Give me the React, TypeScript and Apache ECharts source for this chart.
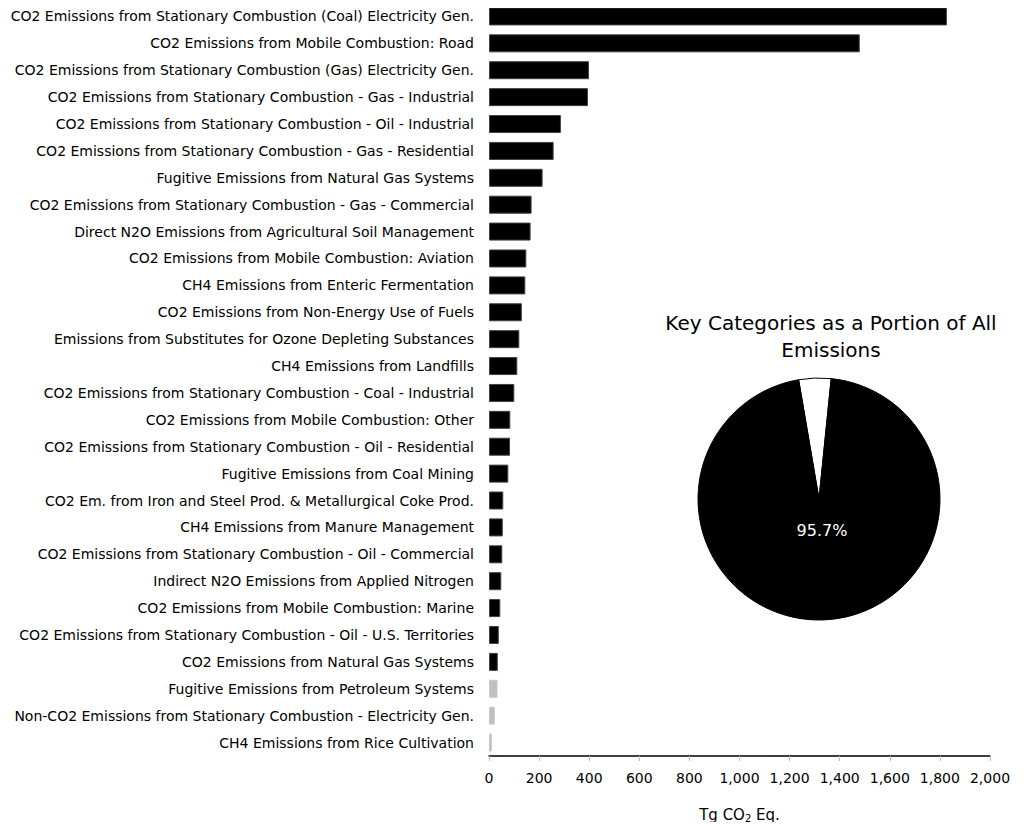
import React, { useEffect, useRef } from "react";
import * as echarts from "echarts";

const categories: string[] = [
  "CO2 Emissions from Stationary Combustion (Coal) Electricity Gen.",
  "CO2 Emissions from Mobile Combustion: Road",
  "CO2 Emissions from Stationary Combustion (Gas) Electricity Gen.",
  "CO2 Emissions from Stationary Combustion - Gas - Industrial",
  "CO2 Emissions from Stationary Combustion - Oil - Industrial",
  "CO2 Emissions from Stationary Combustion - Gas - Residential",
  "Fugitive Emissions from Natural Gas Systems",
  "CO2 Emissions from Stationary Combustion - Gas - Commercial",
  "Direct N2O Emissions from Agricultural Soil Management",
  "CO2 Emissions from Mobile Combustion: Aviation",
  "CH4 Emissions from Enteric Fermentation",
  "CO2 Emissions from Non-Energy Use of Fuels",
  "Emissions from Substitutes for Ozone Depleting Substances",
  "CH4 Emissions from Landfills",
  "CO2 Emissions from Stationary Combustion - Coal - Industrial",
  "CO2 Emissions from Mobile Combustion: Other",
  "CO2 Emissions from Stationary Combustion - Oil - Residential",
  "Fugitive Emissions from Coal Mining",
  "CO2 Em. from Iron and Steel Prod. & Metallurgical Coke Prod.",
  "CH4 Emissions from Manure Management",
  "CO2 Emissions from Stationary Combustion - Oil - Commercial",
  "Indirect N2O Emissions from Applied Nitrogen",
  "CO2 Emissions from Mobile Combustion: Marine",
  "CO2 Emissions from Stationary Combustion - Oil - U.S. Territories",
  "CO2 Emissions from Natural Gas Systems",
  "Fugitive Emissions from Petroleum Systems",
  "Non-CO2 Emissions from Stationary Combustion - Electricity Gen.",
  "CH4 Emissions from Rice Cultivation",
];

const values: number[] = [
  1828, 1480, 399, 395, 287, 258, 214, 170, 166, 149, 145, 131, 121, 113,
  101, 85, 84, 77, 57, 55, 53, 49, 45, 39, 35, 34, 23, 11,
];

// true = key category (black), false = non-key (grey)
const isKey: boolean[] = [
  true, true, true, true, true, true, true, true, true, true, true, true, true, true,
  true, true, true, true, true, true, true, true, true, true, true, false, false, false,
];

const pieNames: string[] = ["Other Emissions", "Key Categories"];
const pieValues: number[] = [4.3, 95.7];

const FONT = "DejaVu Sans";

export default function App() {
  const ref = useRef<HTMLDivElement>(null);
  useEffect(() => {
    if (!ref.current) return;
    const chart = echarts.init(ref.current, undefined, { renderer: "svg" });
    const barData = values.map((v, i) => ({
      value: v,
      itemStyle: isKey[i]
        ? { color: "#000000", borderColor: "#404040", borderWidth: 1 }
        : { color: "#c0c0c0", borderColor: "#c8c8c8", borderWidth: 1 },
    }));
    chart.setOption({
      animation: false,
      textStyle: { fontFamily: FONT },
      title: {
        text: "Key Categories as a Portion of All\nEmissions",
        left: 826,
        top: 304,
        textAlign: "center",
        textStyle: {
          fontFamily: FONT,
          fontSize: 20,
          fontWeight: "normal",
          color: "#000",
          lineHeight: 27,
        },
      },
      grid: { left: 489, right: 40, top: 3, bottom: 74, containLabel: false },
      xAxis: {
        type: "value",
        min: 0,
        max: 2000,
        interval: 200,
        axisLine: { show: true, lineStyle: { color: "#000", width: 1.5 } },
        axisTick: { show: true, length: 5, lineStyle: { color: "#bbbbbb" } },
        splitLine: { show: false },
        axisLabel: {
          fontFamily: FONT,
          fontSize: 14,
          color: "#000",
          margin: 15,
          formatter: (v: number) => v.toLocaleString("en-US"),
        },
        name: "Tg CO{sub|2} Eq.",
        nameLocation: "middle",
        nameGap: 50,
        nameTextStyle: {
          fontFamily: FONT,
          fontSize: 15,
          color: "#000",
          lineHeight: 18,
          rich: {
            sub: { fontSize: 10, fontFamily: FONT, color: "#000", lineHeight: 18, padding: [6, 0, 0, 0] },
          },
        },
      },
      yAxis: {
        type: "category",
        data: categories,
        inverse: true,
        axisLine: { show: false },
        axisTick: { show: false },
        axisLabel: { fontFamily: FONT, fontSize: 14, color: "#000", margin: 15 },
      },
      series: [
        {
          type: "bar",
          data: barData,
          barWidth: 18,
          silent: true,
        },
        {
          type: "pie",
          center: [819, 499],
          radius: 121,
          startAngle: 99.7,
          clockwise: true,
          silent: true,
          data: [
            {
              name: pieNames[0],
              value: pieValues[0],
              itemStyle: { color: "#ffffff", borderColor: "#000", borderWidth: 1 },
              label: { show: false },
            },
            {
              name: pieNames[1],
              value: pieValues[1],
              itemStyle: { color: "#000000", borderColor: "#000", borderWidth: 1 },
              label: {
                show: true,
                position: "center",
                offset: [3, 31],
                formatter: (p: any) => p.value.toFixed(1) + "%",
                color: "#ffffff",
                fontFamily: FONT,
                fontSize: 16,
              },
            },
          ],
          labelLine: { show: false },
        },
      ],
    });
    return () => chart.dispose();
  }, []);
  return <div ref={ref} style={{ width: 1030, height: 830, margin: -8 }} />;
}
